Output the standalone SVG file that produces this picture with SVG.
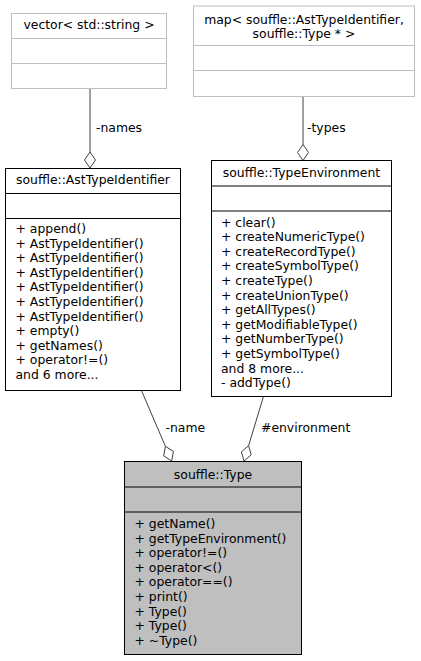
<svg xmlns="http://www.w3.org/2000/svg" width="421" height="661" viewBox="0 0 421 661">
<style>
text{font-family:"DejaVu Sans",sans-serif;font-size:12.4px;fill:#000}
.c{text-anchor:middle}
.box{fill:#fff;stroke:#000;stroke-width:1}
.gbox{fill:#fff;stroke:#bfbfbf;stroke-width:1}
.sel{fill:#bfbfbf;stroke:#000;stroke-width:1}
.div{stroke:#000;stroke-width:1}
.gdiv{stroke:#bfbfbf;stroke-width:1}
.edge{stroke:#404040;stroke-width:1;fill:none}
.dia{fill:#fff;stroke:#404040;stroke-width:1}
</style>
<rect width="421" height="661" fill="#fff"/>
<g id="connectors">
<line class="edge" x1="90" y1="89" x2="90" y2="152"/>
<polygon class="dia" points="90,152 95.5,160 90,168 84.5,160"/>
<text x="96" y="131.5">-names</text>
<line class="edge" x1="303" y1="96" x2="303" y2="144.5"/>
<polygon class="dia" points="303,144.5 308.5,152.5 303,160.5 297.5,152.5"/>
<text x="307" y="131.5">-types</text>
<line class="edge" x1="141.7" y1="391" x2="165.4" y2="446.3"/>
<polygon class="dia" points="165.4,446.3 173.4,451.4 171.7,461 163.7,455.9"/>
<text x="165.5" y="432">-name</text>
<line class="edge" x1="263.3" y1="397" x2="248.6" y2="445.7"/>
<polygon class="dia" points="248.6,445.7 251.2,454.9 244,461 241.4,451.8"/>
<text x="261" y="432">#environment</text>
</g>
<g id="vector">
<rect class="gbox" x="11.5" y="13.5" width="155" height="75"/>
<line class="gdiv" x1="11.5" y1="38.5" x2="166.5" y2="38.5"/>
<line class="gdiv" x1="11.5" y1="63.5" x2="166.5" y2="63.5"/>
<text class="c" x="89" y="28.5">vector&lt; std::string &gt;</text>
</g>
<g id="map">
<rect class="gbox" x="193.5" y="6" width="221" height="90.5"/>
<line class="gdiv" x1="193.5" y1="45.5" x2="414.5" y2="45.5"/>
<line class="gdiv" x1="193.5" y1="70.5" x2="414.5" y2="70.5"/>
<text class="c" x="304" y="23.5">map&lt; souffle::AstTypeIdentifier,</text>
<text class="c" x="304" y="37.5">souffle::Type * &gt;</text>
</g>
<g id="AstTypeIdentifier">
<rect class="box" x="5.5" y="168.5" width="175" height="222"/>
<line class="div" x1="5.5" y1="193.5" x2="180.5" y2="193.5"/>
<line class="div" x1="5.5" y1="218.5" x2="180.5" y2="218.5"/>
<text class="c" x="93" y="184">souffle::AstTypeIdentifier</text>
<text x="15.5" y="233">+ append()</text>
<text x="15.5" y="247.6">+ AstTypeIdentifier()</text>
<text x="15.5" y="262.2">+ AstTypeIdentifier()</text>
<text x="15.5" y="276.8">+ AstTypeIdentifier()</text>
<text x="15.5" y="291.4">+ AstTypeIdentifier()</text>
<text x="15.5" y="306">+ AstTypeIdentifier()</text>
<text x="15.5" y="320.6">+ AstTypeIdentifier()</text>
<text x="15.5" y="335.2">+ empty()</text>
<text x="15.5" y="349.8">+ getNames()</text>
<text x="15.5" y="364.4">+ operator!=()</text>
<text x="15.5" y="379">and 6 more...</text>
</g>
<g id="TypeEnvironment">
<rect class="box" x="211.5" y="160.5" width="180" height="236"/>
<line class="div" x1="211.5" y1="186" x2="391.5" y2="186"/>
<line class="div" x1="211.5" y1="211" x2="391.5" y2="211"/>
<text class="c" x="301.5" y="176.5">souffle::TypeEnvironment</text>
<text x="221" y="226.5">+ clear()</text>
<text x="221" y="241.1">+ createNumericType()</text>
<text x="221" y="255.7">+ createRecordType()</text>
<text x="221" y="270.3">+ createSymbolType()</text>
<text x="221" y="284.9">+ createType()</text>
<text x="221" y="299.5">+ createUnionType()</text>
<text x="221" y="314.1">+ getAllTypes()</text>
<text x="221" y="328.7">+ getModifiableType()</text>
<text x="221" y="343.3">+ getNumberType()</text>
<text x="221" y="357.9">+ getSymbolType()</text>
<text x="221" y="372.5">and 8 more...</text>
<text x="221" y="387.1">- addType()</text>
</g>
<g id="Type">
<rect class="sel" x="124.5" y="461.5" width="177" height="193"/>
<line class="div" x1="124.5" y1="487" x2="301.5" y2="487"/>
<line class="div" x1="124.5" y1="512" x2="301.5" y2="512"/>
<text class="c" x="213" y="478.5">souffle::Type</text>
<text x="134.5" y="528">+ getName()</text>
<text x="134.5" y="542.6">+ getTypeEnvironment()</text>
<text x="134.5" y="557.2">+ operator!=()</text>
<text x="134.5" y="571.8">+ operator&lt;()</text>
<text x="134.5" y="586.4">+ operator==()</text>
<text x="134.5" y="601">+ print()</text>
<text x="134.5" y="615.6">+ Type()</text>
<text x="134.5" y="630.2">+ Type()</text>
<text x="134.5" y="644.8">+ ~Type()</text>
</g>
</svg>
